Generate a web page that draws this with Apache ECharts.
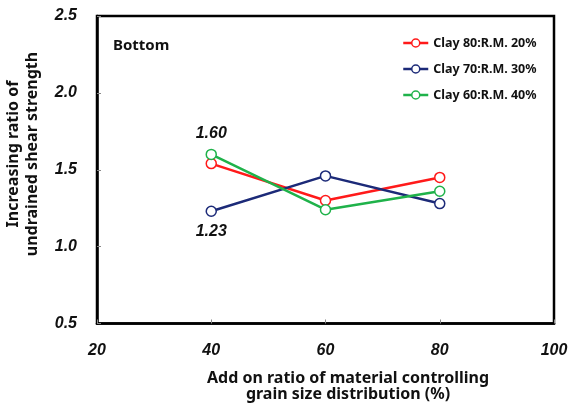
<!DOCTYPE html>
<html>
<head>
<meta charset="utf-8">
<script src="https://cdn.jsdelivr.net/npm/echarts@6/dist/echarts.min.js"></script>
<style>
html,body{margin:0;padding:0;background:#fff;}
#chart{width:572px;height:406px;}
</style>
</head>
<body>
<div id="chart"></div>
<script>
var xValues = [40, 60, 80];
var seriesNames = ['Clay 80:R.M. 20%', 'Clay 70:R.M. 30%', 'Clay 60:R.M. 40%'];
var clay80 = [1.54, 1.30, 1.45];
var clay70 = [1.23, 1.46, 1.28];
var clay60 = [1.60, 1.24, 1.36];
var xTicks = [20, 40, 60, 80, 100];
var yTicks = [0.5, 1.0, 1.5, 2.0, 2.5];
var colors = ['#ff1a1a', '#1c2a78', '#1fb24a'];

var chart = echarts.init(document.getElementById('chart'), null, {renderer: 'canvas'});
var uiFont = '"Noto Sans", "Open Sans", sans-serif';
var numFont = '"Liberation Sans", Arial, sans-serif';

function pairs(vals) {
  return vals.map(function (v, i) { return [xValues[i], v]; });
}

function mkSeries(idx, vals, labelIdx, labelPos) {
  var data = pairs(vals).map(function (p, i) {
    var d = {value: p};
    if (i === labelIdx) {
      d.label = {
        show: true, position: labelPos, distance: 7,
        formatter: function (prm) { return prm.value[1].toFixed(2); },
        fontFamily: numFont, fontWeight: 'bold', fontStyle: 'italic', fontSize: 16, color: '#111'
      };
    }
    return d;
  });
  return {
    name: seriesNames[idx],
    type: 'line',
    data: data,
    symbol: 'circle',
    symbolSize: 10,
    lineStyle: {color: colors[idx], width: 2.5},
    itemStyle: {color: '#fff', borderColor: colors[idx], borderWidth: 1.5},
    emphasis: {disabled: true},
    z: 3 + idx
  };
}

var option = {
  animation: false,
  backgroundColor: '#fff',
  grid: {left: 97, right: 18, top: 16, bottom: 82.5, show: true, borderColor: '#000', borderWidth: 2.5, backgroundColor: 'transparent'},
  legend: {
    orient: 'vertical', left: 397, top: 31,
    itemWidth: 25, itemHeight: 10, itemGap: 12,
    data: seriesNames.map(function (n, i) {
      return {name: n, itemStyle: {color: '#fff', borderColor: colors[i], borderWidth: 1.5}, lineStyle: {color: colors[i], width: 2.5}};
    }),
    textStyle: {fontFamily: uiFont, fontWeight: 'bold', fontSize: 12.5, color: '#111', lineHeight: 14}
  },
  xAxis: {
    type: 'value', min: xTicks[0], max: xTicks[xTicks.length - 1], interval: 20,
    axisLine: {show: true, lineStyle: {color: '#000', width: 2.5}},
    axisTick: {show: true, inside: true, length: 4, lineStyle: {color: '#888', width: 1}},
    splitLine: {show: false},
    axisLabel: {margin: 19, fontFamily: numFont, fontWeight: 'bold', fontStyle: 'italic', fontSize: 16, color: '#111'}
  },
  yAxis: {
    type: 'value', min: yTicks[0], max: yTicks[yTicks.length - 1], interval: 0.5,
    axisLine: {show: true, lineStyle: {color: '#000', width: 2.5}},
    axisTick: {show: true, inside: true, length: 4, lineStyle: {color: '#888', width: 1}},
    splitLine: {show: false},
    axisLabel: {margin: 20, fontFamily: numFont, fontWeight: 'bold', fontStyle: 'italic', fontSize: 16, color: '#111',
      formatter: function (v) { return v.toFixed(1); }}
  },
  graphic: [
    {type: 'text', left: 113, top: 38, style: {text: 'Bottom', fontFamily: uiFont, fontWeight: 'bold', fontSize: 15, fill: '#111'}},
    {type: 'text', x: 13, y: 154, rotation: Math.PI / 2,
      style: {text: 'Increasing ratio of', fontFamily: uiFont, fontWeight: 'bold', fontSize: 16, fill: '#111', textAlign: 'center', textVerticalAlign: 'middle'}},
    {type: 'text', x: 32, y: 154, rotation: Math.PI / 2,
      style: {text: 'undrained shear strength', fontFamily: uiFont, fontWeight: 'bold', fontSize: 16, fill: '#111', textAlign: 'center', textVerticalAlign: 'middle'}},
    {type: 'text', x: 348, y: 378,
      style: {text: 'Add on ratio of material controlling', fontFamily: uiFont, fontWeight: 'bold', fontSize: 16, fill: '#111', textAlign: 'center', textVerticalAlign: 'middle'}},
    {type: 'text', x: 348, y: 394,
      style: {text: 'grain size distribution (%)', fontFamily: uiFont, fontWeight: 'bold', fontSize: 16, fill: '#111', textAlign: 'center', textVerticalAlign: 'middle'}}
  ],
  series: [
    mkSeries(0, clay80, -1, 'top'),
    mkSeries(1, clay70, 0, 'bottom'),
    mkSeries(2, clay60, 0, 'top')
  ]
};
chart.setOption(option);
</script>
</body>
</html>
